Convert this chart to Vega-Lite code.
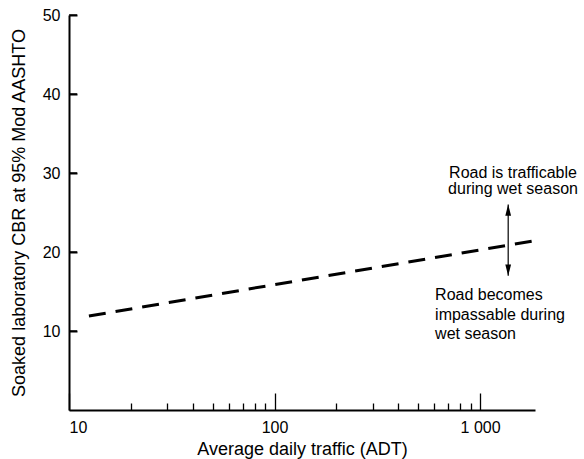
{
  "$schema": "https://vega.github.io/schema/vega-lite/v6.json",
  "width": 466,
  "height": 395,
  "autosize": {"type": "none"},
  "padding": {"left": 69, "top": 15, "right": 49, "bottom": 49},
  "background": "white",
  "config": {
    "view": {"stroke": null},
    "font": "Liberation Sans",
    "axis": {
      "domainColor": "black",
      "domainWidth": 2,
      "tickColor": "black",
      "tickWidth": 1.3,
      "labelColor": "black",
      "titleColor": "black",
      "labelFont": "Liberation Sans",
      "titleFont": "Liberation Sans",
      "labelFontSize": 16,
      "titleFontSize": 18,
      "titleFontWeight": "normal",
      "grid": false
    }
  },
  "datasets": {
    "line": [
      {"adt": 12.5, "cbr": 11.9},
      {"adt": 1810, "cbr": 21.4}
    ],
    "arrow": [
      {"adt": 1370, "cbr": 26.0, "cbr_end": 17.0}
    ],
    "heads": [
      {"adt": 1370, "cbr": 26.0, "end": "top"},
      {"adt": 1370, "cbr": 17.0, "end": "bottom"}
    ],
    "yticks": [
      {"cbr": 10}, {"cbr": 20}, {"cbr": 30}, {"cbr": 40}, {"cbr": 50}
    ],
    "upper": [
      {"adt": 1446, "cbr": 30.0, "text": "Road is trafficable"},
      {"adt": 1446, "cbr": 28.0, "text": "during wet season"}
    ],
    "lower": [
      {"adt": 604, "cbr": 14.5, "text": "Road becomes"},
      {"adt": 604, "cbr": 12.0, "text": "impassable during"},
      {"adt": 604, "cbr": 9.6, "text": "wet season"}
    ]
  },
  "encoding": {
    "y": {
      "field": "cbr", "type": "quantitative",
      "scale": {"domain": [0, 50]},
      "axis": {
        "values": [10, 20, 30, 40, 50],
        "ticks": true,
        "tickSize": -8,
        "tickWidth": 2,
        "labelPadding": 17,
        "title": "Soaked laboratory CBR at 95% Mod AASHTO",
        "titlePadding": 14
      }
    }
  },
  "layer": [
    {
      "data": {"name": "line"},
      "mark": {"type": "line", "color": "black", "strokeWidth": 3, "strokeDash": [17, 10]},
      "encoding": {
        "x": {
          "field": "adt", "type": "quantitative",
          "scale": {"type": "log", "domain": [10, 1850]},
          "axis": {
            "orient": "bottom",
            "values": [10, 100, 1000],
            "tickSize": -17,
            "labelPadding": 26,
            "labelExpr": "datum.value == 1000 ? '1 000' : format(datum.value, 'd')",
            "title": "Average daily traffic (ADT)",
            "titlePadding": 5
          }
        }
      }
    },
    {
      "data": {"name": "arrow"},
      "mark": {"type": "rule", "color": "black", "strokeWidth": 1.2},
      "encoding": {
        "x": {
          "field": "adt", "type": "quantitative",
          "scale": {"type": "log", "domain": [10, 1850]},
          "axis": {
            "orient": "bottom",
            "values": [20, 30, 40, 50, 60, 70, 80, 90, 200, 300, 400, 500, 600, 700, 800, 900],
            "tickSize": -7,
            "labels": false,
            "domain": false,
            "title": null
          }
        },
        "y2": {"field": "cbr_end"}
      }
    },
    {
      "data": {"name": "yticks"},
      "mark": {"type": "tick", "orient": "horizontal", "color": "black", "size": 8, "thickness": 1.3, "xOffset": 4, "opacity": 1},
      "encoding": {
        "x": {"datum": 10, "type": "quantitative", "scale": {"type": "log", "domain": [10, 1850]}, "axis": null}
      }
    },
    {
      "data": {"name": "heads"},
      "mark": {"type": "point", "filled": true, "color": "black", "opacity": 1, "size": 500, "strokeWidth": 0},
      "encoding": {
        "x": {"field": "adt", "type": "quantitative", "scale": {"type": "log", "domain": [10, 1850]}, "axis": null},
        "shape": {
          "field": "end", "type": "nominal",
          "scale": {"domain": ["top", "bottom"], "range": ["M0,0L0.26,1L-0.26,1Z", "M0,0L0.26,-1L-0.26,-1Z"]},
          "legend": null
        }
      }
    },
    {
      "data": {"name": "upper"},
      "mark": {"type": "text", "align": "center", "baseline": "middle", "fontSize": 16, "font": "Liberation Sans", "color": "black"},
      "encoding": {
        "x": {"field": "adt", "type": "quantitative", "scale": {"type": "log", "domain": [10, 1850]}, "axis": null},
        "text": {"field": "text"}
      }
    },
    {
      "data": {"name": "lower"},
      "mark": {"type": "text", "align": "left", "baseline": "middle", "fontSize": 16, "font": "Liberation Sans", "color": "black"},
      "encoding": {
        "x": {"field": "adt", "type": "quantitative", "scale": {"type": "log", "domain": [10, 1850]}, "axis": null},
        "text": {"field": "text"}
      }
    }
  ],
  "resolve": {"axis": {"x": "independent"}}
}
